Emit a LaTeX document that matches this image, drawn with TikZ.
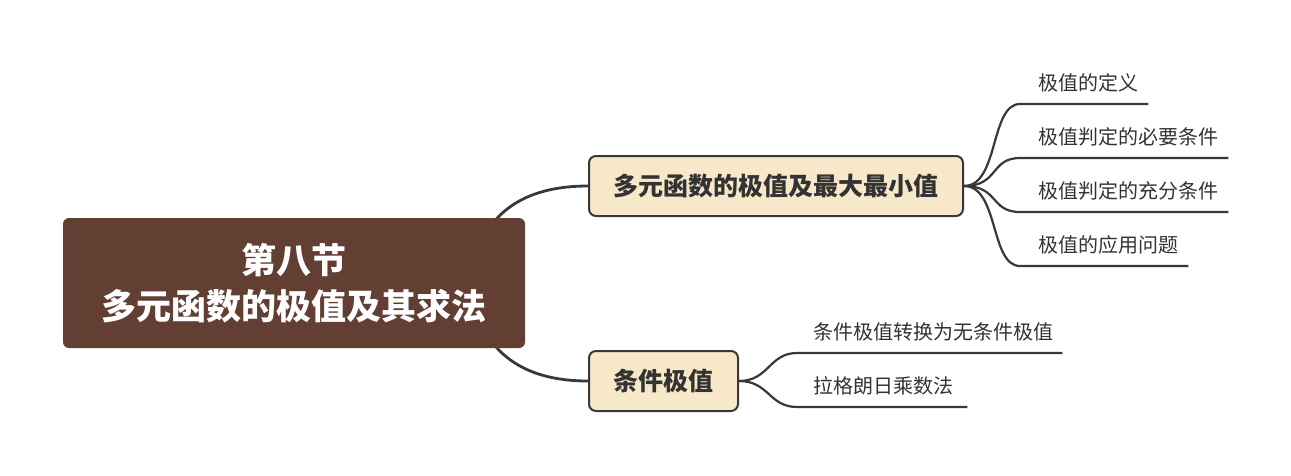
\documentclass[tikz,border=0pt]{standalone}
\usepackage{fontspec}
\setmainfont{Noto Sans CJK SC}
\usetikzlibrary{backgrounds}
\definecolor{rootbrown}{HTML}{623E33}
\definecolor{topicbeige}{HTML}{F8E8CA}
\definecolor{linegray}{HTML}{383838}
\definecolor{textgray}{HTML}{333333}

\begin{document}
\begin{tikzpicture}[x=1pt,y=-1pt,
  root/.style={fill=rootbrown,rounded corners=6pt,text=white,align=center,
    font=\fontsize{35}{46}\selectfont\bfseries,minimum width=462pt,minimum height=130pt,inner sep=0pt},
  topic/.style={draw=linegray,line width=2pt,fill=topicbeige,rounded corners=7pt,text=textgray,
    font=\fontsize{25}{28}\selectfont\bfseries,minimum height=60pt,inner xsep=0pt},
  leaf/.style={font=\fontsize{20}{22}\selectfont,text=textgray,anchor=south west,
    inner xsep=0pt,inner ysep=10pt,text height=16pt,text depth=3pt},
  branch/.style={draw=linegray,line width=2.8pt},
  twig/.style={draw=linegray,line width=2.2pt}]
  \useasboundingbox (0,0) rectangle (1291,475);
  \node[root] (root) at (294,283) {第八节\\多元函数的极值及其求法};
  \node[topic,minimum width=374pt] (extr) at (776,186) {多元函数的极值及最大最小值};
  \node[topic,minimum width=149pt] (cond) at (663.5,381) {条件极值};
  % leaves
  \node[leaf] (e1) at (1020,104) {\kern18pt 极值的定义\kern10pt};
  \node[leaf] (e2) at (1020,158) {\kern18pt 极值判定的必要条件\kern10pt};
  \node[leaf] (e3) at (1020,212) {\kern18pt 极值判定的充分条件\kern10pt};
  \node[leaf] (e4) at (1020,266) {\kern18pt 极值的应用问题\kern10pt};
  \node[leaf] (c1) at (797,353) {\kern16pt 条件极值转换为无条件极值\kern9pt};
  \node[leaf] (c2) at (797,407) {\kern16pt 拉格朗日乘数法\kern14pt};
  \begin{pgfonlayer}{background}
    \draw[branch] ([xshift=-55pt]root.east) .. controls +(8,-66) and +(-69,0) .. (extr.west);
    \draw[branch] ([xshift=-55pt]root.east) .. controls +(8,66) and +(-69,0) .. (cond.west);
  \end{pgfonlayer}
  \foreach \leafname in {e1,e2,e3,e4}{
    \draw[twig] (extr.east) .. controls +(35,0) and +(-30,0) .. (\leafname.south west) -- (\leafname.south east);
  }
  \foreach \leafname in {c1,c2}{
    \draw[twig] (cond.east) .. controls +(30,0) and +(-28,0) .. (\leafname.south west) -- (\leafname.south east);
  }
\end{tikzpicture}
\end{document}
